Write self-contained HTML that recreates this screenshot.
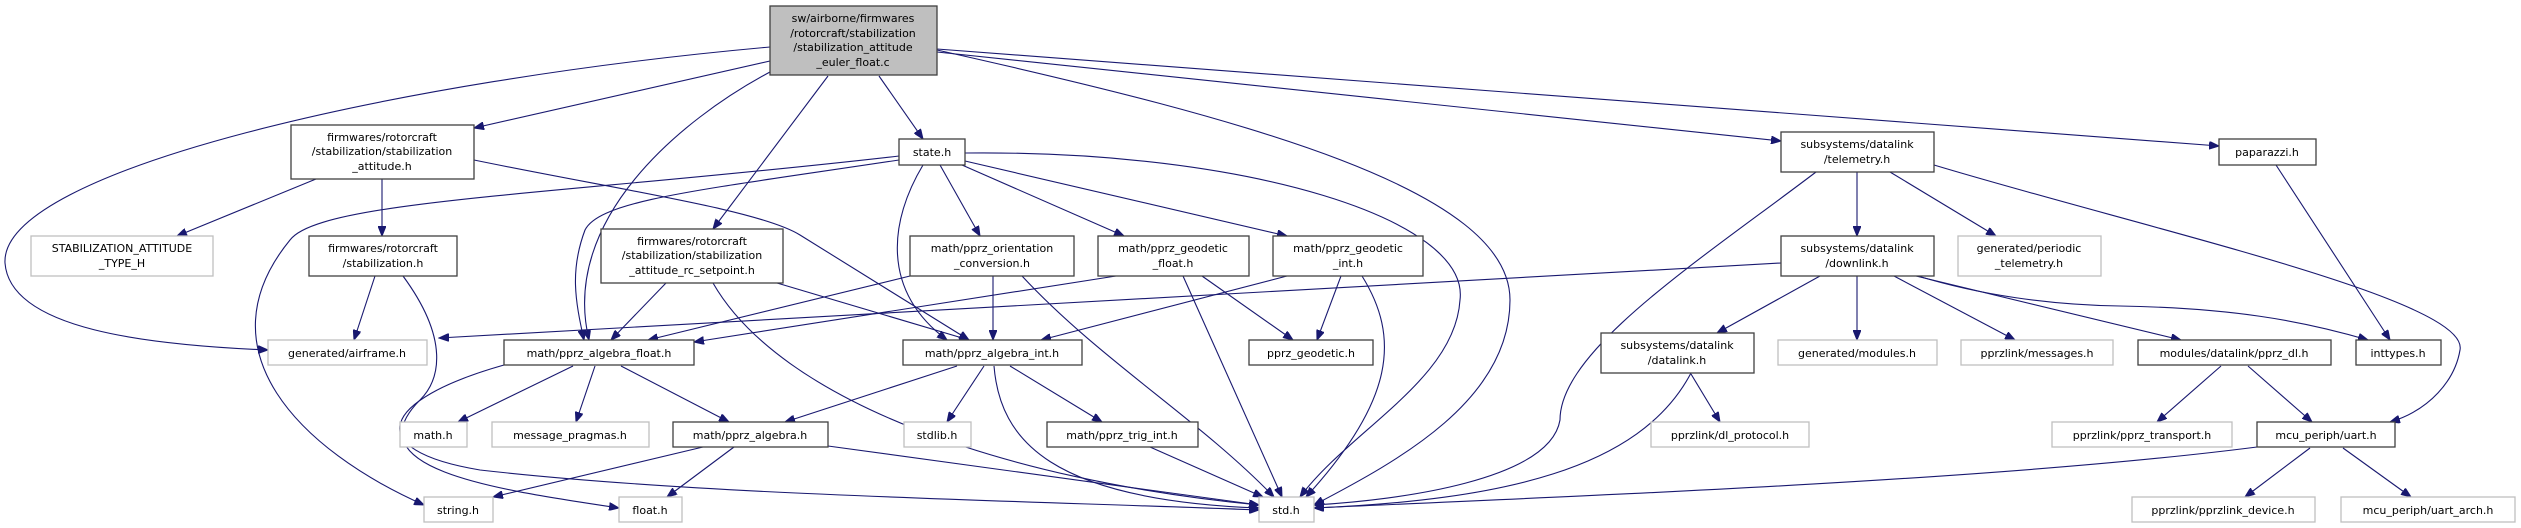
<!DOCTYPE html>
<html><head><meta charset="utf-8"><style>
html,body{margin:0;padding:0;background:#fff;}
svg{display:block;}
text{font-family:"DejaVu Sans","Liberation Sans",sans-serif;font-size:11px;fill:#000;text-anchor:middle;}
.b{fill:#fff;stroke:#404040;stroke-width:1.3;}
.g{fill:#fff;stroke:#bfbfbf;stroke-width:1.3;}
.e{fill:none;stroke:#191970;stroke-width:1.1;marker-end:url(#a);}
</style></head><body>
<svg width="2521" height="528" viewBox="0 0 2521 528" xmlns="http://www.w3.org/2000/svg">
<defs><marker id="a" markerWidth="11" markerHeight="8" refX="10" refY="4" orient="auto" markerUnits="userSpaceOnUse"><path d="M0,0 L10,4 L0,8 z" fill="#191970" stroke="#191970"/></marker></defs>

<!-- edges -->
<path class="e" d="M770,47 C400,80 0,170 5,263 C10,330 150,345 268,350"/>
<path class="e" d="M770,61 L474,128"/>
<path class="e" d="M770,72 C680,120 560,220 589,340"/>
<path class="e" d="M828,76 L713,229"/>
<path class="e" d="M879,76 L923,139"/>
<path class="e" d="M937,50 C1250,120 1510,190 1510,300 C1510,400 1400,460 1314,505"/>
<path class="e" d="M937,52 L1781,141"/>
<path class="e" d="M937,49 L2219,146"/>
<path class="e" d="M316,179 L177,236"/>
<path class="e" d="M382,179 L382,236"/>
<path class="e" d="M474,160 C620,190 760,210 800,235 L969,340"/>
<path class="e" d="M375,276 L354,340"/>
<path class="e" d="M403,276 C450,340 440,380 420,400 C350,470 500,490 619,508"/>
<path class="e" d="M899,156 C560,195 320,200 290,240 C200,350 300,450 424,505"/>
<path class="e" d="M899,160 C700,190 600,200 585,230 C570,270 575,300 584,340"/>
<path class="e" d="M923,165 C890,220 880,290 947,340"/>
<path class="e" d="M940,165 L980,236"/>
<path class="e" d="M962,165 L1124,236"/>
<path class="e" d="M965,161 L1287,236"/>
<path class="e" d="M965,153 C1250,150 1470,220 1460,300 C1455,380 1350,430 1300,497"/>
<path class="e" d="M910,276 L648,340"/>
<path class="e" d="M993,276 L993,340"/>
<path class="e" d="M1022,276 C1100,360 1200,420 1274,497"/>
<path class="e" d="M1116,276 L694,342"/>
<path class="e" d="M1202,276 L1293,340"/>
<path class="e" d="M1183,276 L1282,497"/>
<path class="e" d="M1287,276 L1041,340"/>
<path class="e" d="M1341,276 L1317,340"/>
<path class="e" d="M1362,276 C1400,337 1395,400 1306,497"/>
<path class="e" d="M666,283 L611,340"/>
<path class="e" d="M777,283 L969,340"/>
<path class="e" d="M713,283 C780,400 1000,480 1259,505"/>
<path class="e" d="M573,366 L458,422"/>
<path class="e" d="M595,366 L576,422"/>
<path class="e" d="M621,366 L729,422"/>
<path class="e" d="M504,365 C380,400 360,450 480,470 C700,495 1000,500 1259,510"/>
<path class="e" d="M703,447 L493,497"/>
<path class="e" d="M734,447 L667,497"/>
<path class="e" d="M828,446 L1259,505"/>
<path class="e" d="M957,366 L785,422"/>
<path class="e" d="M984,366 L947,422"/>
<path class="e" d="M994,366 C1000,440 1050,500 1259,508"/>
<path class="e" d="M1010,366 L1102,422"/>
<path class="e" d="M1150,447 L1263,497"/>
<path class="e" d="M1816,172 C1700,260 1560,350 1560,420 C1550,480 1400,500 1314,505"/>
<path class="e" d="M1857,172 L1857,236"/>
<path class="e" d="M1890,172 L1996,236"/>
<path class="e" d="M1934,165 C2150,230 2470,300 2460,350 C2455,380 2430,410 2390,422"/>
<path class="e" d="M1781,263 L439,338"/>
<path class="e" d="M1820,276 L1717,333"/>
<path class="e" d="M1857,276 L1857,340"/>
<path class="e" d="M1894,276 L2015,340"/>
<path class="e" d="M1916,276 L2181,340"/>
<path class="e" d="M1918,276 C1980,295 2050,305 2120,306 C2230,308 2300,320 2368,340"/>
<path class="e" d="M1691,373 C1640,470 1500,500 1314,508"/>
<path class="e" d="M1691,374 L1720,422"/>
<path class="e" d="M2221,366 L2157,422"/>
<path class="e" d="M2248,366 L2312,422"/>
<path class="e" d="M2276,165 L2390,340"/>
<path class="e" d="M2257,447 C2000,480 1600,495 1314,508"/>
<path class="e" d="M2310,448 L2245,497"/>
<path class="e" d="M2343,448 L2411,497"/>

<!-- nodes -->
<rect x="770" y="6" width="167" height="69" fill="#bfbfbf" stroke="#404040" stroke-width="1.3"/>
<text x="853" y="22">sw/airborne/firmwares</text><text x="853" y="37">/rotorcraft/stabilization</text><text x="853" y="51">/stabilization_attitude</text><text x="853" y="66">_euler_float.c</text>

<rect class="b" x="291" y="125" width="183" height="54"/>
<text x="382" y="141">firmwares/rotorcraft</text><text x="382" y="155">/stabilization/stabilization</text><text x="382" y="170">_attitude.h</text>

<rect class="g" x="31" y="236" width="182" height="40"/>
<text x="122" y="252">STABILIZATION_ATTITUDE</text><text x="122" y="267">_TYPE_H</text>

<rect class="b" x="309" y="236" width="148" height="40"/>
<text x="383" y="252">firmwares/rotorcraft</text><text x="383" y="267">/stabilization.h</text>

<rect class="g" x="268" y="340" width="159" height="25"/><text x="347" y="357">generated/airframe.h</text>
<rect class="b" x="504" y="340" width="190" height="25"/><text x="599" y="357">math/pprz_algebra_float.h</text>

<rect class="b" x="601" y="229" width="182" height="54"/>
<text x="692" y="245">firmwares/rotorcraft</text><text x="692" y="259">/stabilization/stabilization</text><text x="692" y="274">_attitude_rc_setpoint.h</text>

<rect class="g" x="400" y="422" width="67" height="25"/><text x="433" y="439">math.h</text>
<rect class="g" x="492" y="422" width="157" height="25"/><text x="570" y="439">message_pragmas.h</text>
<rect class="b" x="673" y="422" width="155" height="25"/><text x="750" y="439">math/pprz_algebra.h</text>
<rect class="g" x="424" y="497" width="69" height="25"/><text x="458" y="514">string.h</text>
<rect class="g" x="619" y="497" width="63" height="25"/><text x="650" y="514">float.h</text>

<rect class="b" x="899" y="139" width="66" height="26"/><text x="932" y="156">state.h</text>
<rect class="b" x="910" y="236" width="164" height="40"/><text x="992" y="252">math/pprz_orientation</text><text x="992" y="267">_conversion.h</text>
<rect class="b" x="1098" y="236" width="151" height="40"/><text x="1173" y="252">math/pprz_geodetic</text><text x="1173" y="267">_float.h</text>
<rect class="b" x="1273" y="236" width="150" height="40"/><text x="1348" y="252">math/pprz_geodetic</text><text x="1348" y="267">_int.h</text>
<rect class="b" x="903" y="340" width="179" height="25"/><text x="992" y="357">math/pprz_algebra_int.h</text>
<rect class="b" x="1249" y="340" width="124" height="25"/><text x="1311" y="357">pprz_geodetic.h</text>
<rect class="g" x="904" y="422" width="67" height="25"/><text x="937" y="439">stdlib.h</text>
<rect class="b" x="1047" y="422" width="151" height="25"/><text x="1122" y="439">math/pprz_trig_int.h</text>
<rect class="g" x="1259" y="497" width="55" height="25"/><text x="1286" y="514">std.h</text>

<rect class="b" x="1601" y="333" width="153" height="40"/><text x="1677" y="349">subsystems/datalink</text><text x="1677" y="364">/datalink.h</text>
<rect class="g" x="1651" y="422" width="158" height="25"/><text x="1730" y="439">pprzlink/dl_protocol.h</text>

<rect class="b" x="1781" y="132" width="153" height="40"/><text x="1857" y="148">subsystems/datalink</text><text x="1857" y="163">/telemetry.h</text>
<rect class="b" x="2219" y="139" width="97" height="26"/><text x="2267" y="156">paparazzi.h</text>
<rect class="b" x="1781" y="236" width="153" height="40"/><text x="1857" y="252">subsystems/datalink</text><text x="1857" y="267">/downlink.h</text>
<rect class="g" x="1958" y="236" width="143" height="40"/><text x="2029" y="252">generated/periodic</text><text x="2029" y="267">_telemetry.h</text>
<rect class="g" x="1778" y="340" width="159" height="25"/><text x="1857" y="357">generated/modules.h</text>
<rect class="g" x="1961" y="340" width="152" height="25"/><text x="2037" y="357">pprzlink/messages.h</text>
<rect class="b" x="2138" y="340" width="193" height="25"/><text x="2234" y="357">modules/datalink/pprz_dl.h</text>
<rect class="b" x="2356" y="340" width="85" height="25"/><text x="2398" y="357">inttypes.h</text>
<rect class="g" x="2052" y="422" width="180" height="25"/><text x="2142" y="439">pprzlink/pprz_transport.h</text>
<rect class="b" x="2257" y="422" width="138" height="25"/><text x="2326" y="439">mcu_periph/uart.h</text>
<rect class="g" x="2132" y="497" width="183" height="25"/><text x="2223" y="514">pprzlink/pprzlink_device.h</text>
<rect class="g" x="2341" y="497" width="174" height="25"/><text x="2428" y="514">mcu_periph/uart_arch.h</text>
</svg>
</body></html>
